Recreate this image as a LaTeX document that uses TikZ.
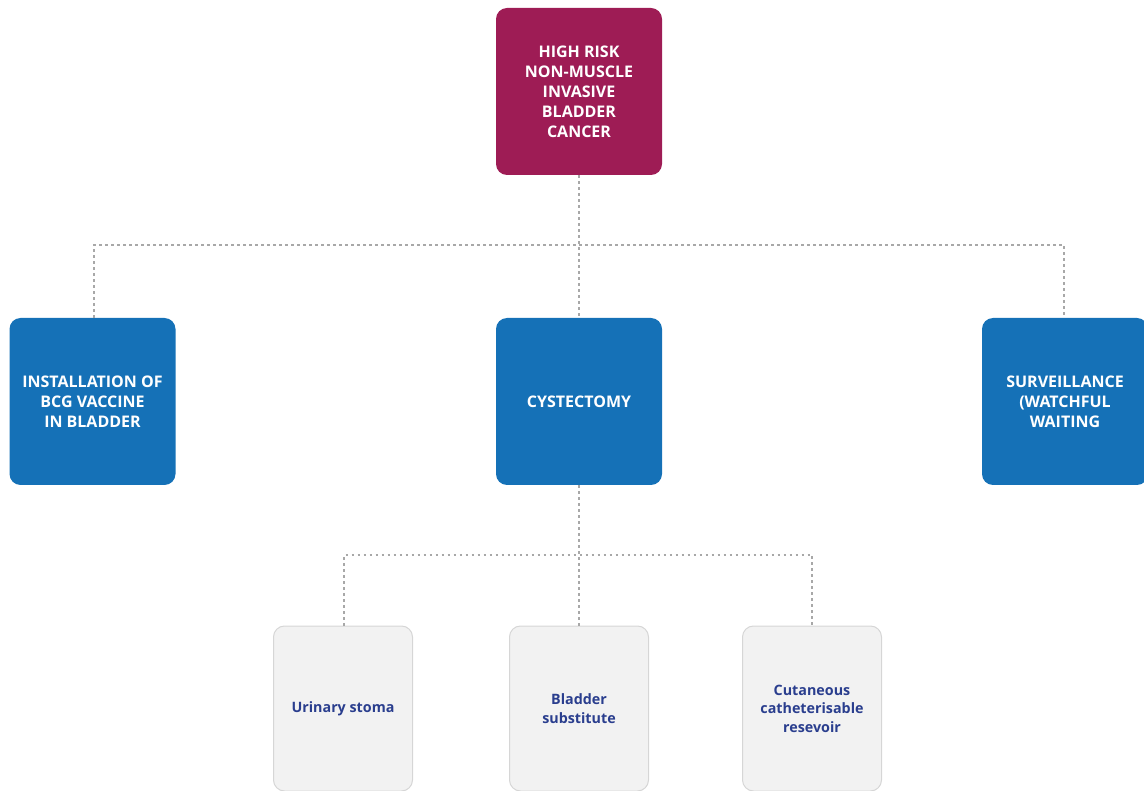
\documentclass[tikz,border=0pt]{standalone}
\usepackage{fontspec}
\setmainfont{Open Sans}
\definecolor{topc}{HTML}{9E1C55}
\definecolor{bluec}{HTML}{1571B7}
\definecolor{grayf}{HTML}{F2F2F2}
\definecolor{grayd}{HTML}{D6D6D6}
\definecolor{txtb}{HTML}{2A3E8E}
\definecolor{dotc}{HTML}{A8A8A8}
\begin{document}
\begin{tikzpicture}[x=1pt,y=-1pt,
  mainbox/.style={rounded corners=11pt,minimum width=166pt,minimum height=167pt,inner sep=0pt,text=white,font=\bfseries\fontsize{16}{20}\selectfont,align=center},
  topbox/.style={mainbox,fill=topc},
  bluebox/.style={mainbox,fill=bluec},
  subbox/.style={rounded corners=11pt,minimum width=139pt,minimum height=165pt,inner sep=0pt,fill=grayf,draw=grayd,line width=1pt,text=txtb,font=\bfseries\fontsize{14.3}{18.5}\selectfont,align=center},
  dots/.style={draw=dotc,line width=2.8pt,dash pattern=on 2.8pt off 3.2pt}]
\useasboundingbox (0,0) rectangle (1144,791);
\clip (0,0) rectangle (1144,791);
\node[topbox] (top) at (579,91.5) {HIGH RISK\\NON-MUSCLE\\INVASIVE\\BLADDER\\CANCER};
\node[bluebox] (bcg) at (92.5,401.5) {INSTALLATION OF\\BCG VACCINE\\IN BLADDER};
\node[bluebox] (cys) at (579,401.5) {CYSTECTOMY};
\node[bluebox] (sur) at (1065,401.5) {SURVEILLANCE\\(WATCHFUL\\WAITING};
\node[subbox] (uri) at (343,708.5) {Urinary stoma};
\node[subbox] (bla) at (579,708.5) {Bladder\\substitute};
\node[subbox] (cut) at (812,708.5) {Cutaneous\\catheterisable\\resevoir};
\coordinate (h1) at (579,245);
\coordinate (h2) at (579,555);
\draw[dots] (top.south) -- (cys.north);
\draw[dots] (bcg.north -| 94,0) |- (h1) -| (sur.north -| 1064,0);
\draw[dots] (cys.south) -- (bla.north);
\draw[dots] (uri.north -| 344,0) |- (h2) -| (cut.north);
\end{tikzpicture}
\end{document}
